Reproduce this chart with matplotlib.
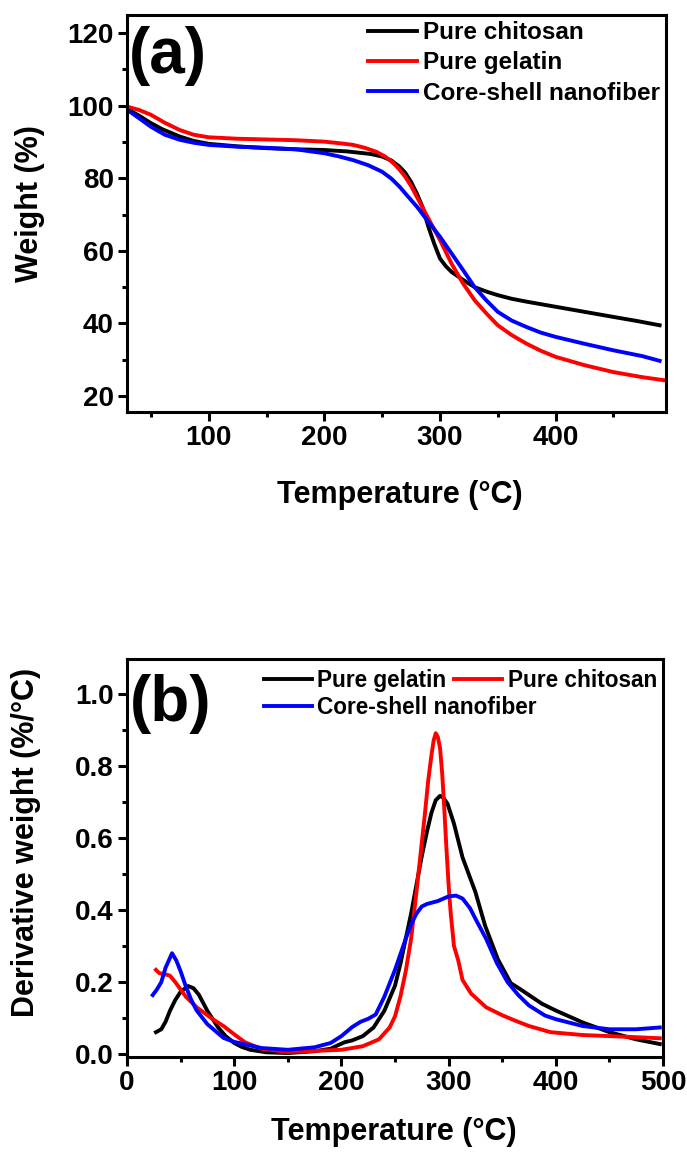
import matplotlib
matplotlib.use("Agg")
import matplotlib.pyplot as plt
from matplotlib.ticker import MultipleLocator, FormatStrFormatter

# ---- TGA (weight %) data ----
tga_temp_chitosan = [29, 40, 50, 60, 75, 87, 100, 125, 150, 175, 200, 220, 240, 250, 258,
                     265, 270, 275, 280, 285, 290, 295, 300, 305, 310, 320, 330, 340, 350,
                     362, 375, 400, 425, 450, 470, 490]
tga_chitosan = [99.2, 97.2, 95.2, 93.5, 91.5, 90.3, 89.5, 88.8, 88.3, 88.0, 87.8, 87.4, 86.7,
                86.0, 84.9, 83.2, 81.5, 79.0, 75.8, 72.0, 66.6, 62.0, 57.9, 55.8, 54.2, 52.0,
                50.0, 48.8, 47.8, 46.8, 46.0, 44.6, 43.2, 41.8, 40.7, 39.5]

tga_temp_gelatin = [29, 40, 50, 62, 75, 87, 100, 125, 150, 175, 200, 215, 225, 235, 245, 253,
                    260, 265, 270, 275, 280, 290, 300, 310, 320, 330, 340, 350, 362, 375, 387,
                    400, 425, 450, 475, 495]
tga_gelatin = [99.8, 98.8, 97.5, 95.3, 93.3, 92.0, 91.3, 90.9, 90.7, 90.5, 90.1, 89.6, 89.2,
               88.4, 87.3, 85.9, 84.1, 82.4, 80.4, 77.9, 74.9, 68.9, 63.0, 56.5, 51.0, 46.4,
               42.8, 39.5, 36.8, 34.4, 32.5, 30.8, 28.5, 26.6, 25.2, 24.3]

tga_temp_core = [29, 40, 50, 62, 75, 87, 100, 125, 150, 175, 200, 213, 225, 238, 250, 258,
                 265, 272, 280, 290, 300, 310, 320, 330, 340, 350, 362, 375, 387, 400, 425,
                 450, 475, 490]
tga_core = [99.0, 96.5, 94.2, 92.0, 90.6, 89.8, 89.2, 88.7, 88.4, 88.0, 86.9, 86.0, 85.0,
            83.6, 81.8, 79.9, 77.7, 75.1, 72.2, 68.0, 63.9, 59.3, 54.7, 50.0, 46.4, 43.2,
            40.8, 39.0, 37.5, 36.3, 34.4, 32.6, 31.0, 29.7]

# ---- DTG (derivative weight, %/°C) data ----
dtg_temp_gelatin = [27, 32, 36, 40, 45, 50, 57, 62, 67, 75, 85, 92, 100, 107, 115, 130, 150,
                    175, 190, 197, 203, 210, 220, 230, 240, 250, 255, 260, 265, 270, 275, 280,
                    284, 288, 292, 295, 299, 305, 313, 325, 334, 346, 358, 367, 375, 387, 400,
                    425, 450, 475, 497]
dtg_gelatin = [0.061, 0.069, 0.090, 0.120, 0.150, 0.173, 0.189, 0.183, 0.165, 0.120, 0.074,
               0.050, 0.031, 0.020, 0.012, 0.005, 0.003, 0.008, 0.015, 0.025, 0.033, 0.038,
               0.050, 0.074, 0.120, 0.190, 0.250, 0.320, 0.390, 0.470, 0.550, 0.620, 0.670,
               0.705, 0.717, 0.712, 0.695, 0.640, 0.546, 0.450, 0.357, 0.263, 0.197, 0.180,
               0.164, 0.140, 0.121, 0.088, 0.061, 0.041, 0.028]

dtg_temp_chitosan = [27, 30, 35, 40, 45, 55, 65, 80, 90, 100, 110, 125, 150, 175, 200, 220,
                     235, 245, 250, 255, 260, 265, 270, 274, 278, 281, 284, 286, 288, 290,
                     292, 294, 296, 298, 300, 302, 305, 309, 313, 321, 335, 350, 362, 375,
                     395, 425, 450, 475, 497]
dtg_chitosan = [0.234, 0.225, 0.222, 0.218, 0.200, 0.159, 0.130, 0.097, 0.078, 0.055, 0.033,
                0.015, 0.006, 0.009, 0.012, 0.022, 0.041, 0.074, 0.105, 0.159, 0.230, 0.320,
                0.450, 0.560, 0.670, 0.760, 0.830, 0.870, 0.891, 0.880, 0.850, 0.780, 0.680,
                0.570, 0.470, 0.390, 0.300, 0.260, 0.206, 0.168, 0.130, 0.108, 0.093, 0.078,
                0.061, 0.053, 0.050, 0.047, 0.044]

dtg_temp_core = [24, 28, 32, 36, 42, 46, 50, 55, 60, 65, 75, 90, 100, 125, 150, 175, 190, 200,
                 210, 218, 225, 232, 240, 250, 260, 265, 270, 275, 280, 290, 300, 307, 313,
                 320, 325, 335, 345, 355, 365, 375, 390, 400, 425, 450, 475, 497]
dtg_core = [0.164, 0.180, 0.200, 0.240, 0.280, 0.260, 0.230, 0.187, 0.150, 0.121, 0.083,
            0.045, 0.034, 0.017, 0.012, 0.019, 0.031, 0.050, 0.075, 0.090, 0.098, 0.110,
            0.159, 0.234, 0.320, 0.360, 0.390, 0.410, 0.417, 0.425, 0.438, 0.440, 0.432,
            0.405, 0.376, 0.320, 0.253, 0.200, 0.164, 0.135, 0.107, 0.097, 0.078, 0.069,
            0.069, 0.074]

plt.rcParams["font.family"] = ["Liberation Sans", "DejaVu Sans"]
plt.rcParams["font.weight"] = "bold"
plt.rcParams["axes.labelweight"] = "bold"

W, H = 687, 1153
fig = plt.figure(figsize=(W / 100, H / 100), dpi=100)


def axes_px(left, top, right, bottom):
    return fig.add_axes([left / W, 1 - bottom / H, (right - left) / W, (bottom - top) / H])


TICK_FS = 20
LABEL_FS = 22
LW = 2.8


def style(ax):
    for s in ax.spines.values():
        s.set_linewidth(2.2)
    ax.tick_params(which="both", direction="out", width=2.2, top=False, right=False,
                   labelsize=TICK_FS, pad=3)
    ax.tick_params(which="major", length=6.5)
    ax.tick_params(which="minor", length=3.5)
    for lab in ax.get_xticklabels() + ax.get_yticklabels():
        lab.set_fontweight("bold")


# Panel (a): weight loss curves
ax1 = axes_px(127, 15, 666, 412)
ax1.plot(tga_temp_chitosan, tga_chitosan, color="black", lw=LW, label="Pure chitosan")
ax1.plot(tga_temp_gelatin, tga_gelatin, color="#ff0000", lw=LW, label="Pure gelatin")
ax1.plot(tga_temp_core, tga_core, color="#0000ff", lw=LW, label="Core-shell nanofiber")
ax1.set_xlim(29.3, 495.5)
ax1.set_ylim(15.6, 125)
ax1.xaxis.set_major_locator(MultipleLocator(100))
ax1.xaxis.set_minor_locator(MultipleLocator(50))
ax1.yaxis.set_major_locator(MultipleLocator(20))
ax1.yaxis.set_minor_locator(MultipleLocator(10))
style(ax1)
ax1.set_xlabel("Temperature (°C)", fontsize=LABEL_FS, fontweight="bold")
ax1.xaxis.set_label_coords(0.506, -0.172)
ax1.set_ylabel("Weight (%)", fontsize=LABEL_FS, fontweight="bold")
ax1.yaxis.set_label_coords(-0.152, 0.526)
ax1.text(0.004, 0.972, "(a)", transform=ax1.transAxes, fontsize=46, fontweight="bold",
         va="top", ha="left")
ax1.legend(loc="upper right", frameon=False, handlelength=2.0, handletextpad=0.25,
           labelspacing=0.3, borderaxespad=0.0, borderpad=0.25,
           prop={"weight": "bold", "size": 17.5})

# Panel (b): derivative weight curves
ax2 = axes_px(127, 659, 663, 1057)
l_gel, = ax2.plot(dtg_temp_gelatin, dtg_gelatin, color="black", lw=LW)
l_chi, = ax2.plot(dtg_temp_chitosan, dtg_chitosan, color="#ff0000", lw=LW)
l_core, = ax2.plot(dtg_temp_core, dtg_core, color="#0000ff", lw=LW)
ax2.set_xlim(0, 500)
ax2.set_ylim(-0.008, 1.097)
ax2.xaxis.set_major_locator(MultipleLocator(100))
ax2.xaxis.set_minor_locator(MultipleLocator(50))
ax2.yaxis.set_major_locator(MultipleLocator(0.2))
ax2.yaxis.set_minor_locator(MultipleLocator(0.1))
ax2.yaxis.set_major_formatter(FormatStrFormatter("%.1f"))
style(ax2)
ax2.set_xlabel("Temperature (°C)", fontsize=LABEL_FS, fontweight="bold")
ax2.xaxis.set_label_coords(0.498, -0.15)
ax2.set_ylabel("Derivative weight (%/°C)", fontsize=LABEL_FS, fontweight="bold")
ax2.yaxis.set_label_coords(-0.16, 0.54)
ax2.text(0.006, 0.962, "(b)", transform=ax2.transAxes, fontsize=46, fontweight="bold",
         va="top", ha="left")

leg_kw = dict(frameon=False, handlelength=2.1, handletextpad=0.25, borderpad=0,
              borderaxespad=0, prop={"weight": "bold", "size": 16.3})
leg_top = ax2.legend([l_gel, l_chi], ["Pure gelatin", "Pure chitosan"], ncol=2,
                     columnspacing=0.35, loc="upper left", bbox_to_anchor=(0.256, 0.976),
                     **leg_kw)
ax2.add_artist(leg_top)
ax2.legend([l_core], ["Core-shell nanofiber"], loc="upper left",
           bbox_to_anchor=(0.256, 0.906), **leg_kw)

fig.savefig("out.png", dpi=100)
